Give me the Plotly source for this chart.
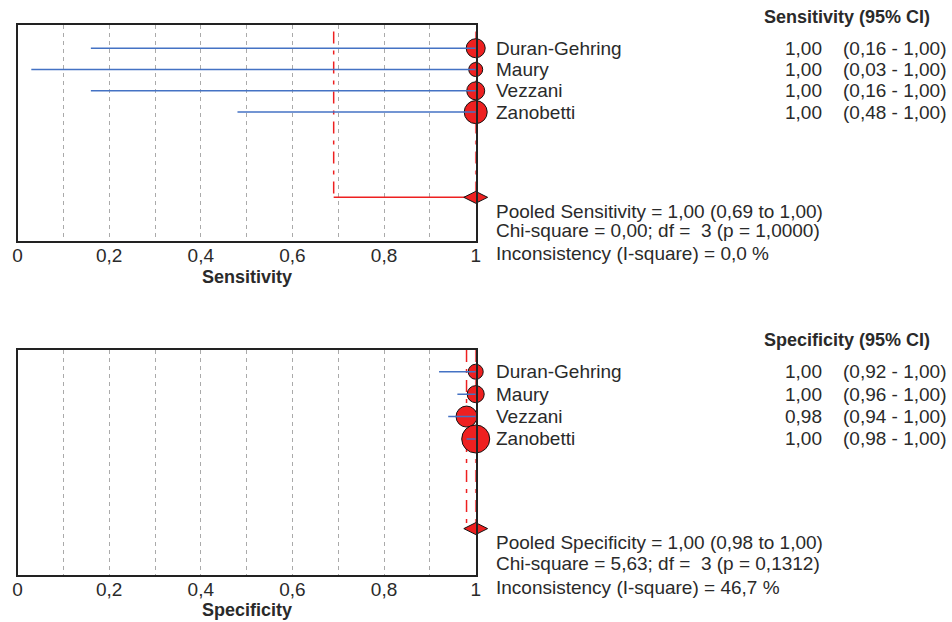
import plotly.graph_objects as go

# Study-level data
studies = ["Duran-Gehring", "Maury", "Vezzani", "Zanobetti"]

sens_est = [1.00, 1.00, 1.00, 1.00]
sens_lo = [0.16, 0.03, 0.16, 0.48]
sens_hi = [1.00, 1.00, 1.00, 1.00]
sens_pooled = [1.00, 0.69, 1.00]  # estimate, lower, upper
sens_stats = ["0,00", "3", "1,0000", "0,0"]  # chi-square, df, p, I-square

spec_est = [1.00, 1.00, 0.98, 1.00]
spec_lo = [0.92, 0.96, 0.94, 0.98]
spec_hi = [1.00, 1.00, 1.00, 1.00]
spec_pooled = [1.00, 0.98, 1.00]
spec_stats = ["5,63", "3", "0,1312", "46,7"]

tick_vals = [0, 0.1, 0.2, 0.3, 0.4, 0.5, 0.6, 0.7, 0.8, 0.9, 1.0]
tick_text = ["0", "", "0,2", "", "0,4", "", "0,6", "", "0,8", "", "1"]

# marker sizes reflect study weights
sens_msize = [19, 14, 18, 23]
spec_msize = [15, 17, 21, 28]

RED = "#ee2020"
BLUE = "#4472c4"
TXT = "#2a2a2a"
FONT = "Arial, Liberation Sans, sans-serif"

W, H = 952, 622


def fmt(v):
    return f"{v:.2f}".replace(".", ",")


fig = go.Figure()

panels = [
    dict(name="Sensitivity", est=sens_est, lo=sens_lo, hi=sens_hi,
         pooled=sens_pooled, stats=sens_stats, msize=sens_msize,
         xa="x", ya="y", top=25, bottom=241, rows=(-1.09, 9.05),
         head_y=17, pooled_y=(212, 231, 253), title_y=277, line_top=-0.78),
    dict(name="Specificity", est=spec_est, lo=spec_lo, hi=spec_hi,
         pooled=spec_pooled, stats=spec_stats, msize=spec_msize,
         xa="x2", ya="y2", top=350, bottom=575, rows=(-0.97, 9.07),
         head_y=340, pooled_y=(542, 563, 587), title_y=610, line_top=-0.97),
]

pool_row = 7
annotations = []

for p in panels:
    rows = list(range(len(studies)))
    est_p, lo_p, hi_p = p["pooled"]

    # pooled confidence limits (vertical) and pooled interval line
    for lim in (lo_p, hi_p):
        fig.add_trace(go.Scatter(
            x=[lim, lim], y=[p["line_top"], pool_row], mode="lines",
            line=dict(color=RED, width=1.5, dash="12px,7px,4px,7px"),
            xaxis=p["xa"], yaxis=p["ya"], hoverinfo="skip", showlegend=False))
    fig.add_trace(go.Scatter(
        x=[lo_p, hi_p], y=[pool_row, pool_row], mode="lines",
        line=dict(color=RED, width=1.5),
        xaxis=p["xa"], yaxis=p["ya"], hoverinfo="skip", showlegend=False))

    # study point estimates
    fig.add_trace(go.Scatter(
        x=p["est"], y=rows, mode="markers",
        marker=dict(symbol="circle", size=p["msize"], color=RED, opacity=1,
                    line=dict(color="#111111", width=1)),
        cliponaxis=False, xaxis=p["xa"], yaxis=p["ya"],
        hoverinfo="skip", showlegend=False))

    # study confidence intervals
    for i in rows:
        fig.add_trace(go.Scatter(
            x=[p["lo"][i], p["hi"][i]], y=[i, i], mode="lines",
            line=dict(color=BLUE, width=1.5),
            xaxis=p["xa"], yaxis=p["ya"], hoverinfo="skip", showlegend=False))

    # pooled estimate
    fig.add_trace(go.Scatter(
        x=[est_p], y=[pool_row], mode="markers",
        marker=dict(symbol="diamond-wide", size=17, color=RED, opacity=1,
                    line=dict(color="#111111", width=1)),
        cliponaxis=False, xaxis=p["xa"], yaxis=p["ya"],
        hoverinfo="skip", showlegend=False))

    # study labels and values
    for i, s in enumerate(studies):
        annotations.append(dict(
            x=494 / W, xref="paper", y=i, yref=p["ya"], text=s,
            xanchor="left", yanchor="middle", showarrow=False,
            font=dict(size=19, color=TXT, family=FONT)))
        annotations.append(dict(
            x=828 / W, xref="paper", y=i, yref=p["ya"], text=fmt(p["est"][i]),
            xanchor="right", yanchor="middle", showarrow=False,
            font=dict(size=19, color=TXT, family=FONT)))
        annotations.append(dict(
            x=954 / W, xref="paper", y=i, yref=p["ya"],
            text=f"({fmt(p['lo'][i])} - {fmt(p['hi'][i])})",
            xanchor="right", yanchor="middle", showarrow=False,
            font=dict(size=19, color=TXT, family=FONT)))

    annotations.append(dict(
        x=937 / W, xref="paper", y=1 - p["head_y"] / H, yref="paper",
        text=f"<b>{p['name']} (95% CI)</b>", xanchor="right", yanchor="middle",
        showarrow=False, font=dict(size=18, color=TXT, family=FONT)))

    chi, df, pv, i2 = p["stats"]
    lines = [
        f"Pooled {p['name']} = {fmt(est_p)} ({fmt(lo_p)} to {fmt(hi_p)})",
        f"Chi-square = {chi}; df =\u00a0\u00a0{df} (p = {pv})",
        f"Inconsistency (I-square) = {i2} %",
    ]
    for yy, t in zip(p["pooled_y"], lines):
        annotations.append(dict(
            x=494 / W, xref="paper", y=1 - yy / H, yref="paper", text=t,
            xanchor="left", yanchor="middle", showarrow=False,
            font=dict(size=19, color=TXT, family=FONT)))

    annotations.append(dict(
        x=245 / W, xref="paper", y=1 - p["title_y"] / H, yref="paper",
        text=f"<b>{p['name']}</b>", xanchor="center", yanchor="middle",
        showarrow=False, font=dict(size=18, color=TXT, family=FONT)))

x_dom = [12.7 / W, 475.7 / W]
xaxis_common = dict(
    domain=x_dom, range=[0, 1], tickvals=tick_vals, ticktext=tick_text,
    showgrid=True, griddash="4px,4px", gridcolor="#aaaaaa", gridwidth=1,
    showline=True, linecolor="#222222", linewidth=1.5, mirror=True,
    ticks="", zeroline=False, fixedrange=True, ticklabelstandoff=-4,
    tickfont=dict(size=19, color=TXT, family=FONT),
)
yaxis_common = dict(
    showgrid=False, showticklabels=False, showline=True,
    linecolor="#222222", linewidth=1.5, mirror=True, ticks="",
    zeroline=False, fixedrange=True,
)

top, bot = panels
fig.update_layout(
    width=W, height=H,
    margin=dict(l=0, r=0, t=0, b=0),
    paper_bgcolor="white", plot_bgcolor="white",
    xaxis=dict(anchor="y", **xaxis_common),
    yaxis=dict(anchor="x", domain=[1 - top["bottom"] / H, 1 - top["top"] / H],
               range=[top["rows"][1], top["rows"][0]], **yaxis_common),
    xaxis2=dict(anchor="y2", **xaxis_common),
    yaxis2=dict(anchor="x2", domain=[1 - bot["bottom"] / H, 1 - bot["top"] / H],
                range=[bot["rows"][1], bot["rows"][0]], **yaxis_common),
    annotations=annotations,
    showlegend=False,
)

fig.write_html("out.html")
